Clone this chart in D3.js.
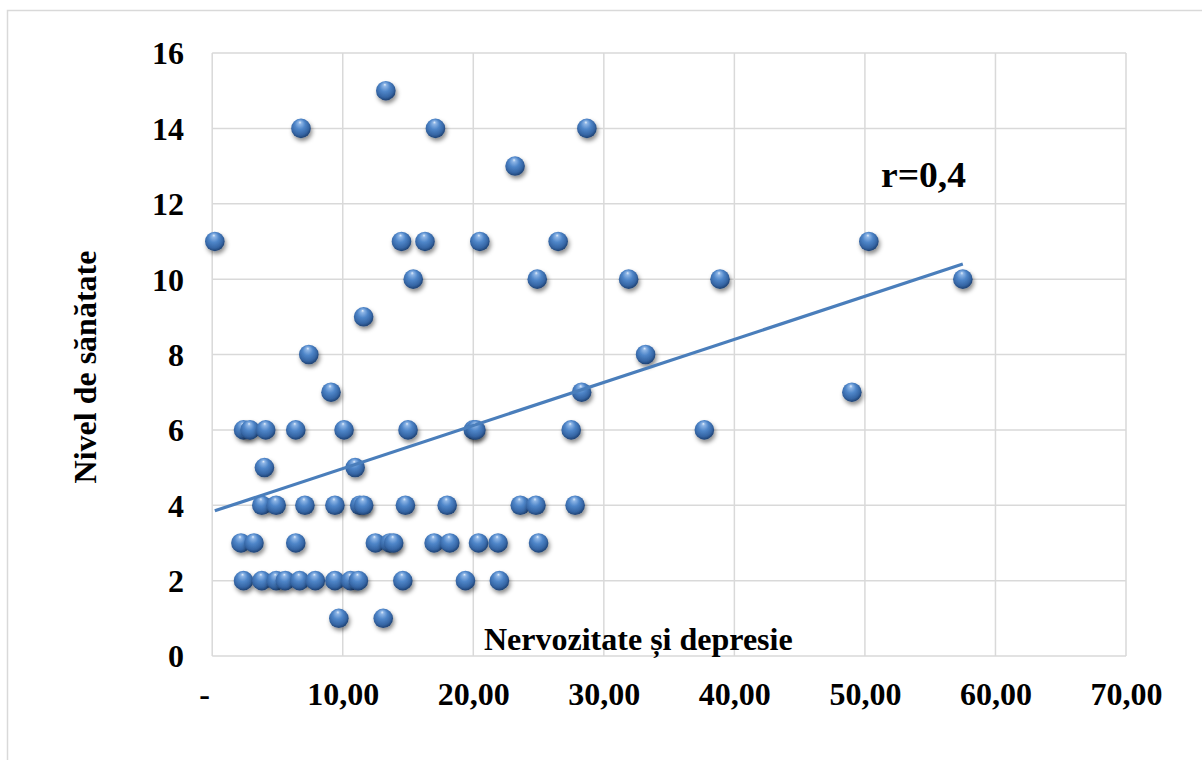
<!DOCTYPE html>
<html>
<head>
<meta charset="utf-8">
<script src="https://cdn.jsdelivr.net/npm/d3@7"></script>
<style>
  html, body { margin: 0; padding: 0; background: #fff; }
  svg { display: block; }
  text { font-family: "Liberation Serif", "Times New Roman", serif; font-weight: bold; fill: #000; }
</style>
</head>
<body>
<svg id="chart" width="1202" height="760"></svg>
<script>
// ---- data ----
const xValues = [
  9.7, 13.1,
  2.4, 3.8, 4.9, 5.6, 6.7, 7.9, 9.4, 10.6, 11.2, 14.6, 19.4, 22.0,
  2.2, 3.2, 6.4, 12.5, 13.6, 13.9, 17.0, 18.2, 20.4, 21.9, 25.0,
  3.8, 4.9, 7.1, 9.4, 11.3, 11.6, 14.8, 18.0, 23.6, 24.8, 27.8,
  4.0, 10.95,
  2.4, 2.9, 4.1, 6.4, 10.1, 15.0, 20.0, 20.2, 27.5, 37.7,
  9.1, 28.3, 49.0,
  7.4, 33.2,
  11.6,
  15.4, 24.9, 31.9, 38.9, 57.5,
  0.2, 14.5, 16.3, 20.5, 26.5, 50.3,
  23.2,
  6.8, 17.1, 28.7,
  13.3
];
const yValues = [
  1, 1,
  2, 2, 2, 2, 2, 2, 2, 2, 2, 2, 2, 2,
  3, 3, 3, 3, 3, 3, 3, 3, 3, 3, 3,
  4, 4, 4, 4, 4, 4, 4, 4, 4, 4, 4,
  5, 5,
  6, 6, 6, 6, 6, 6, 6, 6, 6, 6,
  7, 7, 7,
  8, 8,
  9,
  10, 10, 10, 10, 10,
  11, 11, 11, 11, 11, 11,
  13,
  14, 14, 14,
  15
];
const xTicks = [0, 10, 20, 30, 40, 50, 60, 70];
const xTickLabels = ["-", "10,00", "20,00", "30,00", "40,00", "50,00", "60,00", "70,00"];
const yTicks = [0, 2, 4, 6, 8, 10, 12, 14, 16];
const yTickLabels = ["0", "2", "4", "6", "8", "10", "12", "14", "16"];
const trendIntercept = 3.83;
const trendSlope = 0.1143;
const xTitle = "Nervozitate și depresie";
const yTitle = "Nivel de sănătate";
const annotation = "r=0,4";

// ---- layout ----
const svg = d3.select("#chart");
const pLeft = 212.2, pRight = 1126, pTop = 53, pBottom = 656;
const x = d3.scaleLinear().domain([0, 70]).range([pLeft, pRight]);
const y = d3.scaleLinear().domain([0, 16]).range([pBottom, pTop]);

// outer chart border (only top/left visible)
svg.append("rect")
  .attr("x", 7.5).attr("y", 10.5).attr("width", 1400).attr("height", 1000)
  .attr("fill", "none").attr("stroke", "#d9d9d9").attr("stroke-width", 1.5);

// defs: sphere gradient and shadow
const defs = svg.append("defs");
const grad = defs.append("radialGradient").attr("id", "sphere")
  .attr("cx", "45%").attr("cy", "42%").attr("r", "58%")
  .attr("fx", "45%").attr("fy", "18%");
grad.append("stop").attr("offset", "0%").attr("stop-color", "#e6f0fb");
grad.append("stop").attr("offset", "14%").attr("stop-color", "#8db5e6");
grad.append("stop").attr("offset", "45%").attr("stop-color", "#4f86c9");
grad.append("stop").attr("offset", "80%").attr("stop-color", "#3565a4");
grad.append("stop").attr("offset", "100%").attr("stop-color", "#1f4273");
const f = defs.append("filter").attr("id", "shadow")
  .attr("x", "-50%").attr("y", "-50%").attr("width", "200%").attr("height", "200%");
f.append("feDropShadow").attr("dx", 1.5).attr("dy", 3).attr("stdDeviation", 2)
  .attr("flood-color", "#000").attr("flood-opacity", 0.45);

// gridlines
const grid = svg.append("g");
grid.selectAll("line.v").data(xTicks).join("line").attr("class", "v")
  .attr("x1", d => x(d)).attr("x2", d => x(d))
  .attr("y1", pTop).attr("y2", pBottom)
  .attr("stroke", "#d9d9d9").attr("stroke-width", 1.5);
grid.selectAll("line.h").data(yTicks).join("line").attr("class", "h")
  .attr("y1", d => y(d)).attr("y2", d => y(d))
  .attr("x1", pLeft).attr("x2", pRight)
  .attr("stroke", "#d9d9d9").attr("stroke-width", 1.5);

// axes via d3 axis generators (labels only)
const yAxis = d3.axisLeft(y).tickValues(yTicks).tickFormat((d, i) => yTickLabels[i]).tickSize(0).tickPadding(0);
const gy = svg.append("g").attr("transform", "translate(184,0)").call(yAxis);
gy.select(".domain").remove();
gy.selectAll("text").attr("font-size", 32).attr("font-family", "Liberation Serif").attr("font-weight", "bold")
  .attr("fill", "#000").attr("dy", "0.34em").attr("text-anchor", "end").attr("x", 0);

const xAxis = d3.axisBottom(x).tickValues(xTicks).tickFormat((d, i) => xTickLabels[i]).tickSize(0).tickPadding(0);
const gx = svg.append("g").attr("transform", "translate(0,705)").call(xAxis);
gx.select(".domain").remove();
gx.selectAll("text").attr("font-size", 32).attr("font-family", "Liberation Serif").attr("font-weight", "bold")
  .attr("fill", "#000").attr("dy", 0).attr("y", 0)
  .attr("dx", (d, i) => i === 0 ? -8 : 0);

// points
const pts = xValues.map((v, i) => ({ x: v, y: yValues[i] }));
svg.append("g").selectAll("circle").data(pts).join("circle")
  .attr("cx", d => x(d.x)).attr("cy", d => y(d.y)).attr("r", 9.8)
  .attr("fill", "url(#sphere)").attr("filter", "url(#shadow)");

// trend line (drawn above markers)
const xMin = d3.min(xValues), xMax = d3.max(xValues);
svg.append("line")
  .attr("x1", x(xMin)).attr("y1", y(trendIntercept + trendSlope * xMin))
  .attr("x2", x(xMax)).attr("y2", y(trendIntercept + trendSlope * xMax))
  .attr("stroke", "#4a7ebb").attr("stroke-width", 3.2);

// titles
svg.append("text").attr("x", 484).attr("y", 650).attr("font-size", 32).text(xTitle);
svg.append("text").attr("transform", "translate(96,367) rotate(-90)")
  .attr("text-anchor", "middle").attr("font-size", 32).text(yTitle);

// annotation
svg.append("text").attr("x", 881).attr("y", 187).attr("font-size", 35)
  .attr("textLength", 85).attr("lengthAdjust", "spacingAndGlyphs").text(annotation);
</script>
</body>
</html>
